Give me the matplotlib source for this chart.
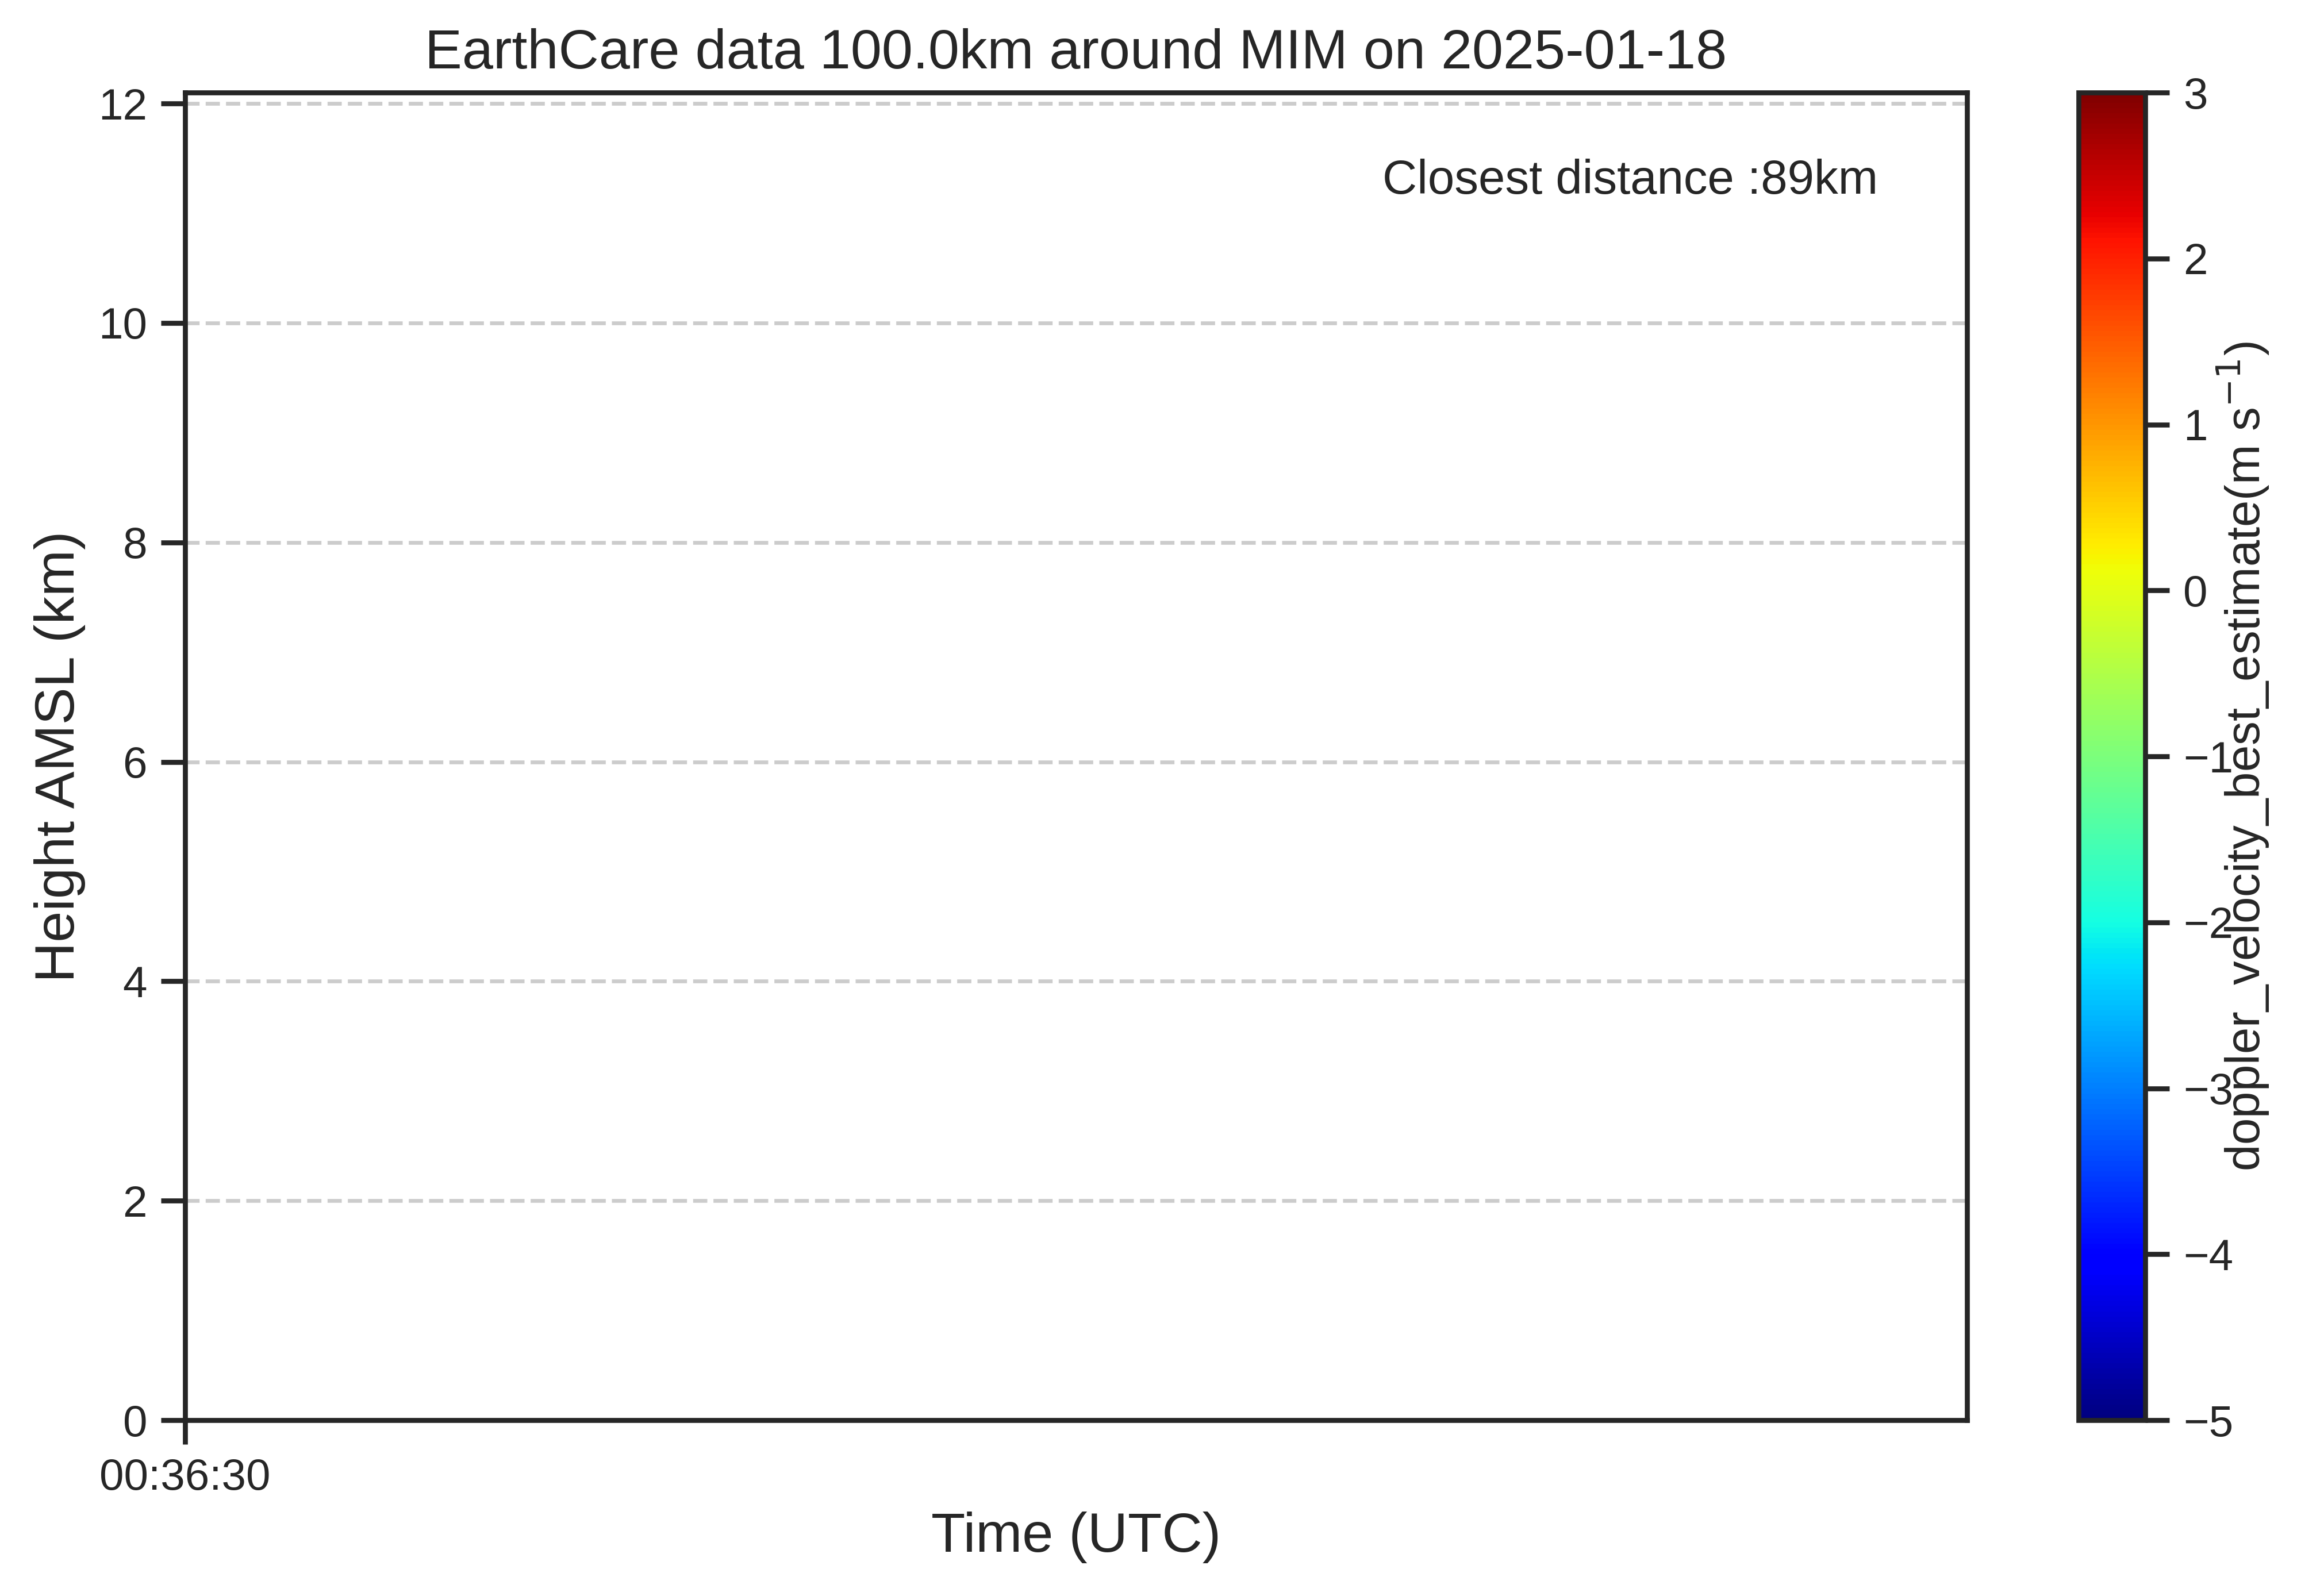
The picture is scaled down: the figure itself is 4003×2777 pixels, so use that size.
import numpy as np
import pandas as pd
import matplotlib
matplotlib.use("Agg")
import matplotlib.pyplot as plt
import matplotlib.dates as mdates
import seaborn as sns

# overpass info
site = "MIM"
date = "2025-01-18"
radius_km = 100.0
closest_km = 89
t_start = pd.Timestamp("2025-01-18 00:36:30")
t_end = pd.Timestamp("2025-01-18 00:37:20")
x_ticks = [t_start]
y_lim = (0, 12.1)
y_ticks = [0, 2, 4, 6, 8, 10, 12]
v_min, v_max = -5, 3
cbar_ticks = [-5, -4, -3, -2, -1, 0, 1, 2, 3]
var_name = "doppler_velocity_best_estimate"

sns.set_theme(style="ticks")
dark = "#262626"
plt.rcParams["font.family"] = ["Liberation Sans", "DejaVu Sans"]
plt.rcParams.update({
    "axes.linewidth": 1.5625,
    "xtick.major.width": 1.5625,
    "ytick.major.width": 1.5625,
    "xtick.major.size": 7.5,
    "ytick.major.size": 7.5,
    "xtick.major.pad": 4.375,
    "ytick.major.pad": 4.375,
    "xtick.labelsize": 13.75,
    "ytick.labelsize": 13.75,
    "axes.labelsize": 15,
    "font.size": 15,
    "axes.edgecolor": dark,
    "text.color": dark,
    "axes.labelcolor": dark,
    "xtick.color": dark,
    "ytick.color": dark,
})

W, H = 4003, 2777
fig = plt.figure(figsize=(W / 400, H / 400), dpi=400)
ax = fig.add_axes([322 / W, 306 / H, 3100 / W, 2310 / H])
cax = fig.add_axes([3616 / W, 306 / H, 116 / W, 2310 / H])

ax.set_xlim(t_start, t_end)
ax.set_ylim(*y_lim)
ax.set_yticks(y_ticks)
ax.set_xticks(x_ticks)
ax.xaxis.set_major_formatter(mdates.DateFormatter("%H:%M:%S"))
ax.grid(axis="y", linestyle="--", color="#cccccc", linewidth=1.2)
ax.set_axisbelow(True)

ax.set_title(f"EarthCare data {radius_km}km around {site} on {date}", fontsize=17.5, pad=7.5)
ax.set_xlabel("Time (UTC)", fontsize=17.5)
ax.set_ylabel("Height AMSL (km)", fontsize=17.5)
ax.text(0.95, 0.95, f"Closest distance :{closest_km}km", transform=ax.transAxes,
        ha="right", va="top", fontsize=15)

sm = plt.cm.ScalarMappable(norm=plt.Normalize(v_min, v_max), cmap="jet")
cbar = fig.colorbar(sm, cax=cax, ticks=cbar_ticks)
cbar.set_label(var_name + "(m s$^{-1}$)", fontsize=15)
cbar.ax.yaxis.set_label_coords(2.06, 0.5)

fig.savefig("out.png", dpi=400)
